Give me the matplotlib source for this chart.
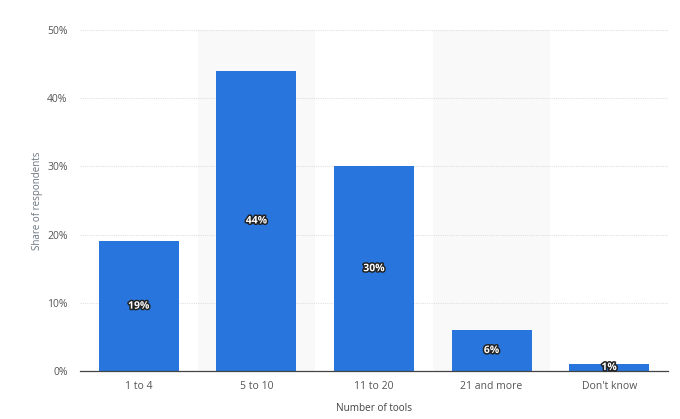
import matplotlib.pyplot as plt
import matplotlib.patheffects as pe
import numpy as np

# data
categories = ['1 to 4', '5 to 10', '11 to 20', '21 and more', "Don't know"]
shares = [19, 44, 30, 6, 1]
yticks = [0, 10, 20, 30, 40, 50]

plt.rcParams['font.family'] = ['Open Sans', 'DejaVu Sans']

fig = plt.figure(figsize=(6.8, 4.19), dpi=100)
ax = fig.add_axes([80 / 680, 1 - 371 / 419, 588 / 680, 341 / 419])

x = np.arange(len(categories))

# alternating shaded bands
for i in x:
    if i % 2 == 1:
        ax.axvspan(i - 0.5, i + 0.5, ymin=0, ymax=1, color='#f9f9f9', zorder=0, lw=0)

ax.set_ylim(0, 50)
ax.set_xlim(-0.5, len(categories) - 0.5)
ax.set_yticks(yticks)
ax.set_yticklabels([f'{v}%' for v in yticks])
ax.yaxis.grid(True, color='#e0e0e0', linestyle=(0, (1, 1)), linewidth=0.8, zorder=1)
ax.set_axisbelow(True)

bars = ax.bar(x, shares, width=0.68, color='#2876dd', zorder=2)

for xi, v in zip(x, shares):
    ax.text(xi, v / 2, f'{v}%', ha='center', va='center', color='white',
            fontsize=7.5, fontweight='bold', zorder=3,
            path_effects=[pe.withStroke(linewidth=2.2, foreground='#222222')])

ax.set_xticks(x)
ax.set_xticklabels(categories)
ax.tick_params(axis='both', length=0, labelsize=7.5, colors='#555555')
ax.tick_params(axis='x', pad=7)
ax.tick_params(axis='y', pad=9)

for s in ['top', 'right', 'left']:
    ax.spines[s].set_visible(False)
ax.spines['bottom'].set_color('#444444')
ax.spines['bottom'].set_linewidth(0.9)

ax.set_xlabel('Number of tools', fontsize=7.2, color='#444444', labelpad=8)
ax.set_ylabel('Share of respondents', fontsize=7, color='#6a7480')
ax.yaxis.set_label_coords(-(80 - 43) / 588, 0.5)

fig.savefig('out.png', dpi=100)
